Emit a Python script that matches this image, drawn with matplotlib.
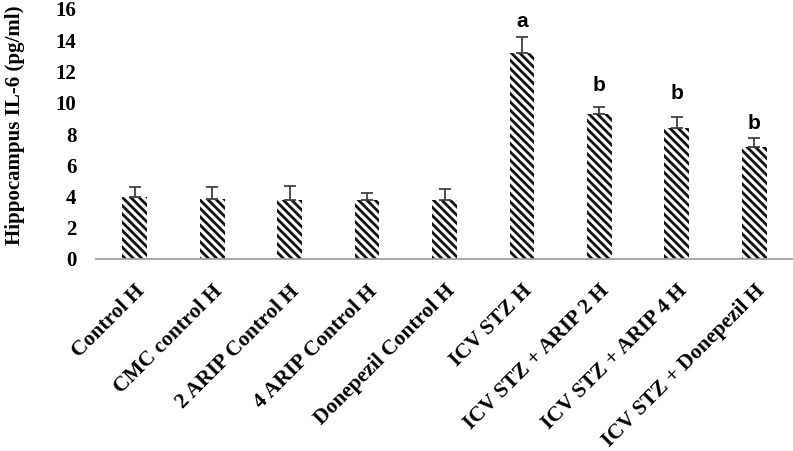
import matplotlib
matplotlib.use("Agg")
import matplotlib.pyplot as plt
import numpy as np

categories = ["Control H", "CMC control H", "2 ARIP Control H", "4 ARIP Control H",
              "Donepezil Control H", "ICV STZ H", "ICV STZ + ARIP 2 H",
              "ICV STZ + ARIP 4 H", "ICV STZ + Donepezil H"]
values = [4.0, 3.82, 3.8, 3.8, 3.8, 13.2, 9.3, 8.4, 7.15]
errors = [0.6, 0.78, 0.9, 0.4, 0.7, 1.0, 0.4, 0.7, 0.6]
letters = ["", "", "", "", "", "a", "b", "b", "b"]
yticks = [0, 2, 4, 6, 8, 10, 12, 14, 16]

letter_offsets = [0, 0, 0, 0, 0, 1.0, 1.4, 1.5, 0.9]

plt.rcParams['hatch.linewidth'] = 2.0
fig = plt.figure(figsize=(7.93, 4.51), dpi=100)
ax = fig.add_axes([96/793, 1-259/451, 1-96/793, (259-9)/451])

x = np.arange(len(categories))
ax.bar(x, values, width=0.32, color='white', edgecolor='#111111',
       linewidth=0, hatch='\\\\\\\\', zorder=2)
ax.errorbar(x, values, yerr=[np.zeros(len(errors)), errors], fmt='none',
            ecolor='#404040', elinewidth=1.3, capsize=4, capthick=1.3, zorder=3)

for xi, v, e, l, o in zip(x, values, errors, letters, letter_offsets):
    if l:
        ax.text(xi, v + e + o, l, ha='center', va='center',
                fontsize=15, fontweight='bold', family='Liberation Sans')

ax.set_xlim(-0.5, 8.5)
ax.set_ylim(0, 16)
ax.set_yticks(yticks)
ax.set_yticklabels([str(t) for t in yticks], fontsize=15, fontweight='bold',
                   family='Liberation Serif')
ax.set_xticks(x)
ax.set_xticklabels(categories, rotation=45, ha='right', rotation_mode='anchor',
                   fontsize=15.5, fontweight='bold', family='Liberation Serif')
ax.tick_params(axis='both', length=0)
ax.tick_params(axis='y', pad=14)
ax.tick_params(axis='x', pad=16)
for s in ['top', 'right', 'left']:
    ax.spines[s].set_visible(False)
ax.spines['bottom'].set_color('#a0a0a0')
ax.spines['bottom'].set_linewidth(1.3)
ax.set_ylabel("Hippocampus IL-6 (pg/ml)", fontsize=15, fontweight='bold',
              family='Liberation Serif')
ax.yaxis.set_label_coords(-0.102, 0.536)

fig.savefig("out.png", dpi=100)
